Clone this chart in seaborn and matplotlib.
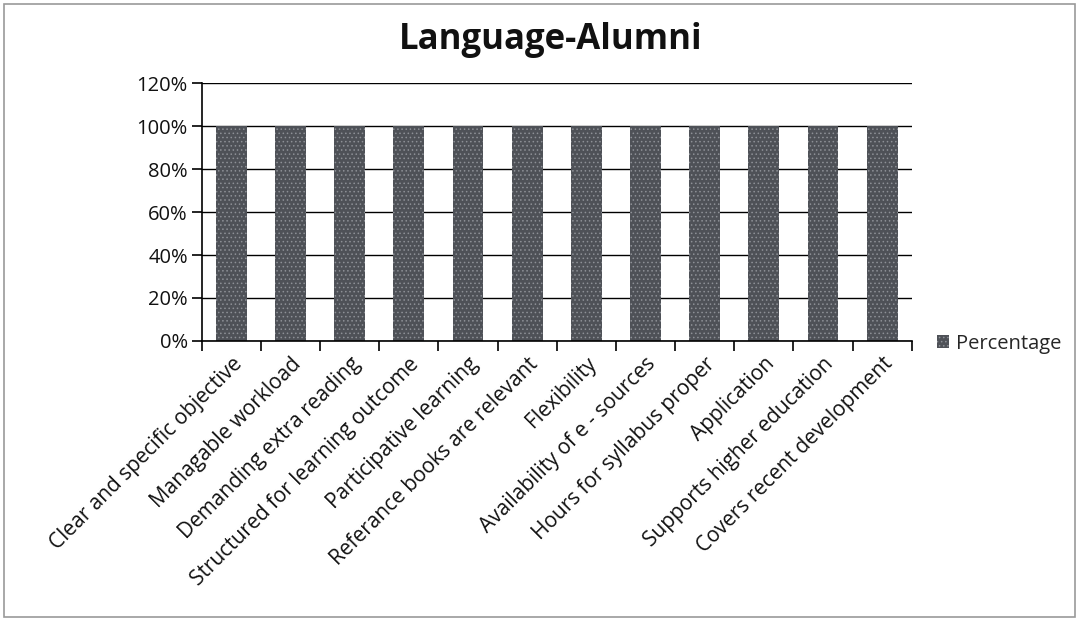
import matplotlib
matplotlib.use("Agg")
import matplotlib.pyplot as plt
import seaborn as sns
import pandas as pd
import numpy as np
from matplotlib.ticker import FixedLocator, PercentFormatter
from matplotlib.patches import Rectangle

categories = [
    "Clear and specific objective",
    "Managable workload",
    "Demanding extra reading",
    "Structured for learning outcome",
    "Participative learning",
    "Referance books are relevant",
    "Flexibility",
    "Availability of e - sources",
    "Hours for syllabus proper",
    "Application",
    "Supports higher education",
    "Covers recent development",
]
percentage = [100, 100, 100, 100, 100, 100, 100, 100, 100, 100, 100, 100]
y_ticks = [0, 20, 40, 60, 80, 100, 120]

sns.set_theme(style="white")
plt.rcParams["font.family"] = ["Open Sans", "DejaVu Sans"]
plt.rcParams["hatch.linewidth"] = 0.6

df = pd.DataFrame({"Category": categories, "Percentage": percentage})

fig = plt.figure(figsize=(10.79, 6.21), dpi=100)
ax = fig.add_axes([0.187, 0.451, 0.658, 0.415])

sns.barplot(data=df, x="Category", y="Percentage", ax=ax, color="#4e5157",
            width=0.52, saturation=1, label="Percentage")
for p in ax.patches:
    p.set_hatch("....")
    p.set_edgecolor("#8d9096")
    p.set_linewidth(0)

ax.set_ylim(0, 120)
ax.set_xlim(-0.5, len(categories) - 0.5)
ax.set_yticks(y_ticks)
ax.yaxis.set_major_formatter(PercentFormatter(decimals=0))
ax.yaxis.grid(True, color="black", linewidth=1.0)
ax.set_axisbelow(True)
ax.set_xlabel("")
ax.set_ylabel("")

for s in ["top", "right"]:
    ax.spines[s].set_visible(False)
for s in ["left", "bottom"]:
    ax.spines[s].set_color("black")
    ax.spines[s].set_linewidth(1.2)

ax.tick_params(axis="y", which="major", left=True, length=7, width=1.2,
               color="black", labelsize=14.5, labelcolor="#111111", pad=3)
ax.set_xticks(range(len(categories)))
ax.set_xticklabels(categories, rotation=45, ha="right", rotation_mode="anchor",
                   fontsize=15, color="#111111")
ax.tick_params(axis="x", which="major", bottom=False, length=0, pad=9)
ax.xaxis.set_minor_locator(FixedLocator(np.arange(-0.5, len(categories), 1.0)))
ax.tick_params(axis="x", which="minor", bottom=True, length=7, width=1.2,
               color="black")

leg = ax.legend(loc="center left", bbox_to_anchor=(1.01, -0.01), frameon=False,
                fontsize=14.5, handlelength=0.6, handleheight=0.6, handletextpad=0.35)

fig.suptitle("Language-Alumni", x=0.51, y=0.965, fontsize=25, fontweight="bold",
             color="#111111")

fig.patches.append(Rectangle((0.004, 0.006), 0.992, 0.988, transform=fig.transFigure,
                             fill=False, edgecolor="#9a9a9a", linewidth=1.2))

fig.savefig("out.png", dpi=100, facecolor="white")
